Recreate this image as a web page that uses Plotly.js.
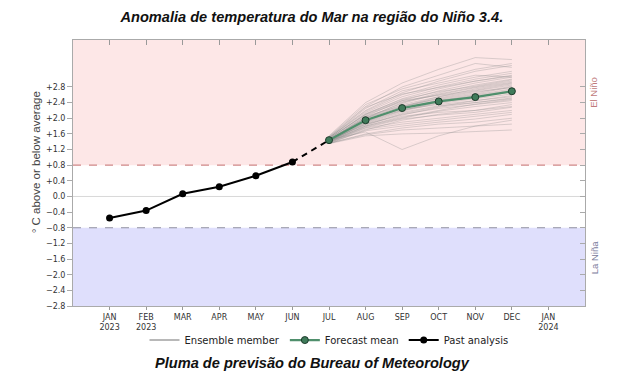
<!DOCTYPE html>
<html>
<head>
<meta charset="utf-8">
<script src="https://cdn.plot.ly/plotly-3.0.1.min.js"></script>
<style>html,body{margin:0;padding:0;background:#fff;}#chart{width:630px;height:384px;}</style>
</head>
<body>
<div id="chart"></div>
<script>
// Month tick labels (index 0 = JAN 2023 ... 12 = JAN 2024)
const monthIdx = [0,1,2,3,4,5,6,7,8,9,10,11,12];
const monthLabels = ["JAN<br>2023","FEB<br>2023","MAR","APR","MAY","JUN","JUL","AUG","SEP","OCT","NOV","DEC","JAN<br>2024"];

// Past analysis (JAN..JUN 2023)
const pastX = [0,1,2,3,4,5];
const pastVals = [-0.55,-0.36,0.07,0.25,0.53,0.88];

// Forecast mean (JUL..DEC 2023)
const fcX = [6,7,8,9,10,11];
const fcMean = [1.44,1.95,2.26,2.43,2.54,2.69];

// Ensemble members, one value per member for each forecast month
const ensJul = [1.45,1.50,1.40,1.35,1.48,1.42,1.38,1.52,1.46,1.44,1.40,1.36,1.50,1.43,1.41,1.47,1.39,1.45,1.37,1.49,1.44,1.42,1.46,1.40,1.53,1.38,1.43,1.47,1.41,1.45,1.50,1.39,1.44,1.42,1.36,1.48,1.46,1.43,1.51,1.40,1.55,1.35];
const ensAug = [2.05,2.20,1.90,1.70,2.10,1.85,1.75,2.30,2.00,1.95,1.80,1.60,2.15,1.98,1.88,2.08,1.78,1.65,1.72,2.25,2.02,1.92,1.96,1.82,2.35,1.68,2.00,2.12,1.86,1.94,2.18,1.76,2.05,1.90,1.58,2.10,2.00,1.84,2.28,1.80,2.40,1.55];
const ensSep = [2.45,2.65,2.20,1.95,2.50,2.10,1.90,2.80,2.35,2.25,2.05,1.75,2.55,2.30,2.18,2.42,2.00,1.20,1.85,2.70,2.38,2.28,2.22,2.12,2.75,1.80,2.40,2.48,2.15,2.20,2.60,1.98,2.32,2.26,1.70,2.45,2.30,2.08,2.62,2.02,2.90,1.60];
const ensOct = [2.70,2.95,2.40,2.10,2.75,2.25,2.00,3.10,2.55,2.45,2.15,1.85,2.80,2.48,2.38,2.60,2.18,1.55,1.95,2.90,2.62,2.52,2.35,2.30,3.00,1.90,2.65,2.68,2.32,2.42,2.85,2.08,2.50,2.46,1.75,2.58,2.55,2.28,2.78,2.20,3.25,1.62];
const ensNov = [2.90,3.20,2.55,2.20,2.95,2.35,2.10,3.40,2.70,2.60,2.20,1.90,3.00,2.62,2.50,2.78,2.30,1.80,2.05,3.10,2.80,2.68,2.45,2.45,3.25,1.98,2.85,2.82,2.40,2.58,3.05,2.15,2.65,2.56,1.80,2.72,2.75,2.40,2.95,2.36,3.55,1.66];
const ensDec = [3.05,3.35,2.70,2.35,3.10,2.45,2.20,3.30,2.85,2.75,2.30,2.00,3.15,2.80,2.62,2.92,2.40,1.95,2.15,3.05,2.95,2.78,2.55,2.58,3.40,2.10,3.00,2.98,2.50,2.72,3.20,2.28,2.82,2.66,1.85,2.88,2.90,2.52,3.08,2.48,3.50,1.70];

// Y ticks
const yTickVals = [-2.8,-2.4,-2.0,-1.6,-1.2,-0.8,-0.4,0.0,0.4,0.8,1.2,1.6,2.0,2.4,2.8];
const yTickText = ["\u22122.8","\u22122.4","\u22122.0","\u22121.6","\u22121.2","\u22120.8","\u22120.4","0.0","+0.4","+0.8","+1.2","+1.6","+2.0","+2.4","+2.8"];

const ninoThreshold = 0.8;
const ninaThreshold = -0.8;

const traces = [];
const ensCols = [ensJul, ensAug, ensSep, ensOct, ensNov, ensDec];
for (let m = 0; m < ensJul.length; m++) {
  traces.push({
    x: fcX, y: ensCols.map(c => c[m]), type: 'scatter', mode: 'lines',
    line: {color: 'rgba(140,140,140,0.32)', width: 1},
    showlegend: false, hoverinfo: 'skip', legendgroup: 'ens'
  });
}
// legend entry for ensemble
traces.push({x:[null], y:[null], type:'scatter', mode:'lines', name:'Ensemble member',
  line:{color:'#a0a0a0', width:1.5}, legendgroup:'ens', legendrank:1});
// past analysis
traces.push({x: pastX, y: pastVals, type:'scatter', mode:'lines+markers', name:'Past analysis',
  line:{color:'#000', width:2}, marker:{color:'#000', size:7}, legendrank:3});
// connector
traces.push({x:[pastX[pastX.length-1], fcX[0]], y:[pastVals[pastVals.length-1], fcMean[0]],
  type:'scatter', mode:'lines', line:{color:'#000', width:2, dash:'6px,5px'}, showlegend:false, hoverinfo:'skip'});
// forecast mean
traces.push({x: fcX, y: fcMean, type:'scatter', mode:'lines+markers', name:'Forecast mean',
  line:{color:'#4f8f6c', width:2.2},
  marker:{color:'#3f7b5a', size:7, line:{color:'#1d3a2b', width:1}}, legendrank:2});
// dummy for mirrored axes
traces.push({x:[null], y:[null], xaxis:'x2', yaxis:'y2', type:'scatter', mode:'markers', showlegend:false, hoverinfo:'skip'});

const axFont = {family:'DejaVu Sans, sans-serif', size:8, color:'#333'};
const layout = {
  width:630, height:384,
  margin:{l:73, r:45, t:40, b:78},
  paper_bgcolor:'#fff', plot_bgcolor:'#fff',
  showlegend:true,
  legend:{orientation:'h', x:0.5, xanchor:'center', y:-0.128, yanchor:'middle', bgcolor:'rgba(0,0,0,0)',
    font:{family:'DejaVu Sans, sans-serif', size:10, color:'#222'}, itemwidth:30, tracegroupgap:0},
  title:{text:'Anomalia de temperatura do Mar na região do Niño 3.4.', x:0.495, xanchor:'center', xref:'container',
    y:1-17/384, yanchor:'middle', yref:'container',
    font:{family:'Liberation Sans, Arial, sans-serif', size:14.6, weight:'bold', style:'italic', color:'#111'}},
  xaxis:{range:[-1,13], tickvals:monthIdx, ticktext:monthLabels, ticks:'outside', ticklen:3, tickcolor:'#999',
    ticklabelstandoff:0,
    showline:true, linecolor:'#aaa', mirror:true, showgrid:false, zeroline:false, tickfont:axFont, fixedrange:true},
  xaxis2:{range:[-1,13], tickvals:monthIdx, overlaying:'x', side:'top', anchor:'y', ticks:'inside', ticklen:5, tickcolor:'#999',
    showticklabels:false, showgrid:false, zeroline:false, showline:false},
  yaxis:{range:[-2.8,4.0], tickvals:yTickVals, ticktext:yTickText, ticks:'outside', ticklen:5, tickcolor:'#aaa',
    showline:true, linecolor:'#aaa', mirror:true, showgrid:false, zeroline:false, tickfont:axFont},
  yaxis2:{range:[-2.8,4.0], tickvals:yTickVals, overlaying:'y', side:'right', anchor:'x', ticks:'inside', ticklen:5, tickcolor:'#aaa',
    showticklabels:false, showgrid:false, zeroline:false, showline:false},
  shapes:[
    {type:'rect', xref:'paper', x0:0, x1:1, yref:'y', y0:ninoThreshold, y1:4.0, fillcolor:'#fde7e7', line:{width:0}, layer:'below'},
    {type:'rect', xref:'paper', x0:0, x1:1, yref:'y', y0:-2.8, y1:ninaThreshold, fillcolor:'#dfdffc', line:{width:0}, layer:'below'},
    {type:'line', xref:'paper', x0:0, x1:1, yref:'y', y0:0, y1:0, line:{color:'#d8d8d8', width:1}, layer:'below'},
    {type:'line', xref:'paper', x0:0, x1:1, yref:'y', y0:ninoThreshold, y1:ninoThreshold, line:{color:'#d08888', width:1.2, dash:'8px,8px'}, layer:'below'},
    {type:'line', xref:'paper', x0:0, x1:1, yref:'y', y0:ninaThreshold, y1:ninaThreshold, line:{color:'#9090a0', width:1.2, dash:'8px,8px'}, layer:'below'}
  ],
  annotations:[
    {text:'\u00b0 C above or below average', xref:'paper', yref:'paper', x:-0.072, y:0.541, xanchor:'center', yanchor:'middle',
      textangle:-90, showarrow:false, font:{family:'Liberation Sans, Arial, sans-serif', size:11.5, color:'#444'}},
    {text:'El Niño', xref:'paper', yref:'y', x:1.0176, y:2.65, xanchor:'center', yanchor:'middle', textangle:-90, showarrow:false,
      font:{family:'Liberation Sans, Arial, sans-serif', size:9.5, color:'#c07a7a'}},
    {text:'La Niña', xref:'paper', yref:'y', x:1.0176, y:-1.58, xanchor:'center', yanchor:'middle', textangle:-90, showarrow:false,
      font:{family:'Liberation Sans, Arial, sans-serif', size:9.5, color:'#7a7a9a'}},
    {text:'Pluma de previsão do Bureau of Meteorology', xref:'paper', yref:'paper', x:0.467, y:-0.214, xanchor:'center', yanchor:'middle',
      showarrow:false, font:{family:'Liberation Sans, Arial, sans-serif', size:14.6, weight:'bold', style:'italic', color:'#111'}}
  ]
};
Plotly.newPlot('chart', traces, layout, {displayModeBar:false, staticPlot:true});
</script>
</body>
</html>
